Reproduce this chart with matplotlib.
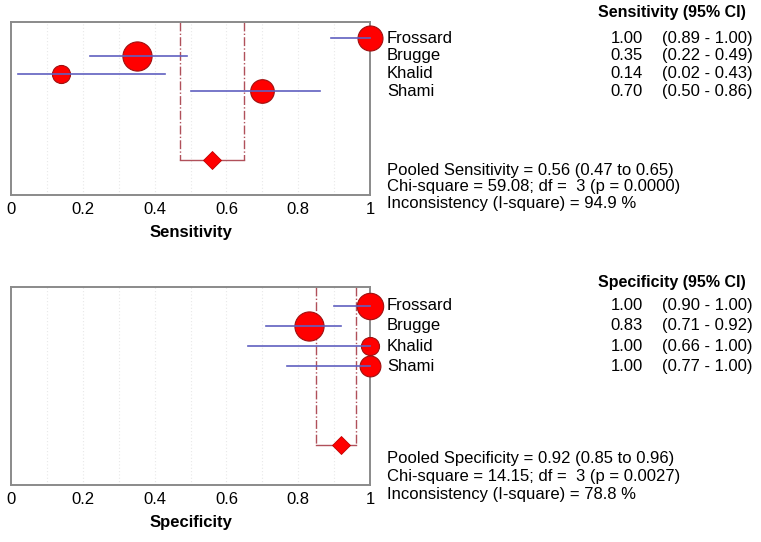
import matplotlib
matplotlib.use("Agg")
import matplotlib.pyplot as plt

plt.rcParams['font.family'] = ['Liberation Sans', 'DejaVu Sans']

studies = ["Frossard", "Brugge", "Khalid", "Shami"]

sens = [1.00, 0.35, 0.14, 0.70]
sens_lo = [0.89, 0.22, 0.02, 0.50]
sens_hi = [1.00, 0.49, 0.43, 0.86]
sens_weight = [18, 21, 13, 17]
sens_pooled = [0.56, 0.47, 0.65]
sens_stats = ["Pooled Sensitivity = 0.56 (0.47 to 0.65)",
              "Chi-square = 59.08; df =  3 (p = 0.0000)",
              "Inconsistency (I-square) = 94.9 %"]

spec = [1.00, 0.83, 1.00, 1.00]
spec_lo = [0.90, 0.71, 0.66, 0.77]
spec_hi = [1.00, 0.92, 1.00, 1.00]
spec_weight = [19, 21, 13, 15]
spec_pooled = [0.92, 0.85, 0.96]
spec_stats = ["Pooled Specificity = 0.92 (0.85 to 0.96)",
              "Chi-square = 14.15; df =  3 (p = 0.0027)",
              "Inconsistency (I-square) = 78.8 %"]

xticks = [0, 0.2, 0.4, 0.6, 0.8, 1]
xticklabels = ["0", "0.2", "0.4", "0.6", "0.8", "1"]

W, H = 761, 542
fig = plt.figure(figsize=(W / 100, H / 100), dpi=100)

FS = 12
POOL_Y = 6.9


def panel(box, vals, lo, hi, wts, pooled, stats, label, header, header_y, stats_y):
    l, t, r, b = box
    ax = fig.add_axes([l / W, 1 - b / H, (r - l) / W, (b - t) / H])
    ax.set_xlim(0, 1)
    ax.set_ylim(8.85, -0.92)
    for gx in [i / 10 for i in range(1, 10)]:
        ax.axvline(gx, color="#e8e8e8", lw=0.8, ls=(0, (1, 2)), zorder=0)
    for i, (v, a, c, w) in enumerate(zip(vals, lo, hi, wts)):
        ax.plot([v], [i], "o", ms=w, mfc="#ff0000", mec="#a01010", mew=0.8,
                zorder=3, clip_on=False)
        ax.plot([a, c], [i, i], color="#6060c0", lw=1.2, zorder=4, clip_on=False)
    p, pl, ph = pooled
    cc = "#b0505a"
    ax.plot([pl, pl], [-0.92, POOL_Y], color=cc, lw=1.0, ls="-.", zorder=2)
    ax.plot([ph, ph], [-0.92, POOL_Y], color=cc, lw=1.0, ls="-.", zorder=2)
    ax.plot([pl, ph], [POOL_Y, POOL_Y], color=cc, lw=1.0, zorder=2)
    ax.plot([p], [POOL_Y], "D", ms=9, mfc="#ff0000", mec="#c00000", mew=0.6, zorder=3)
    ax.set_xticks(xticks)
    ax.set_xticklabels(xticklabels, fontsize=FS)
    ax.tick_params(axis="x", length=0, pad=5)
    ax.set_yticks([])
    for s in ax.spines.values():
        s.set_color("#8a8a8a")
        s.set_linewidth(1.4)
    ax.set_xlabel(label, fontsize=FS, fontweight="bold", labelpad=6)
    # right side texts
    xn = (387 - l) / (r - l)
    xv = (643 - l) / (r - l)
    xc = (662 - l) / (r - l)
    for i, (name, v, a, c) in enumerate(zip(studies, vals, lo, hi)):
        ax.text(xn, i, name, fontsize=FS, va="center", ha="left", clip_on=False)
        ax.text(xv, i, f"{v:.2f}", fontsize=FS, va="center", ha="right", clip_on=False)
        ax.text(xc, i, f"({a:.2f} - {c:.2f})", fontsize=FS, va="center", ha="left",
                clip_on=False)
    fig.text(746 / W, 1 - header_y / H, header, fontsize=FS - 0.5, fontweight="bold",
             ha="right", va="center")
    for sy, st in zip(stats_y, stats):
        fig.text(387 / W, 1 - sy / H, st, fontsize=FS, ha="left", va="center")
    return ax


panel((11, 22, 370, 195), sens, sens_lo, sens_hi, sens_weight, sens_pooled,
      sens_stats, "Sensitivity", "Sensitivity (95% CI)", 13, [170, 186.5, 203.5])
panel((11, 287, 370, 485), spec, spec_lo, spec_hi, spec_weight, spec_pooled,
      spec_stats, "Specificity", "Specificity (95% CI)", 283, [458, 476, 494])

fig.savefig("out.png", dpi=100)
